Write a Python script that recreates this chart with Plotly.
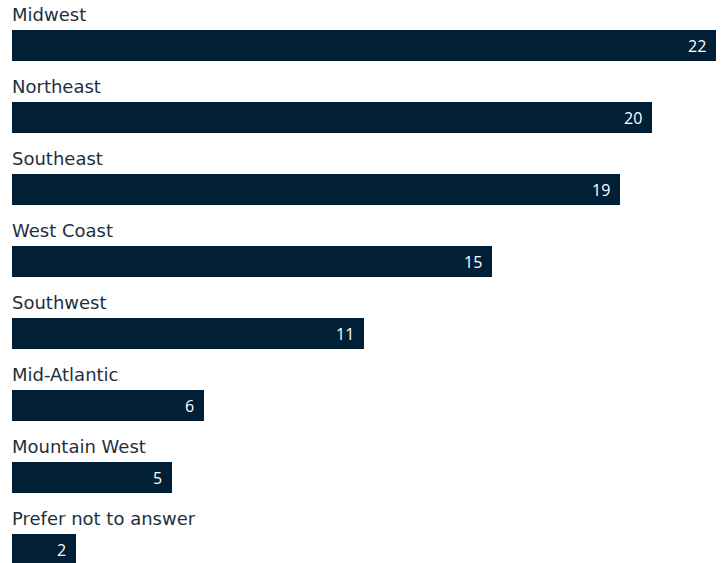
import plotly.graph_objects as go

# Survey responses by region
regions = ["Midwest", "Northeast", "Southeast", "West Coast", "Southwest",
           "Mid-Atlantic", "Mountain West", "Prefer not to answer"]
counts = [22, 20, 19, 15, 11, 6, 5, 2]

BAR_COLOR = "#012036"
LABEL_COLOR = "#1f2f3e"

fig = go.Figure(go.Bar(
    x=counts,
    y=regions,
    orientation="h",
    marker=dict(color=BAR_COLOR, line=dict(width=0)),
    width=0.43,
    hoverinfo="skip",
))

annotations = []
for i, (name, val) in enumerate(zip(regions, counts)):
    # category label sitting above each bar
    annotations.append(dict(
        x=0, y=i - 0.43, xref="x", yref="y",
        text=name, showarrow=False,
        xanchor="left", yanchor="middle", xshift=-2,
        font=dict(family="DejaVu Sans", size=18, color=LABEL_COLOR),
    ))
    # value label inside the bar end
    annotations.append(dict(
        x=val, y=i, xref="x", yref="y",
        text=str(val), showarrow=False,
        xanchor="right", yanchor="middle", xshift=-8,
        font=dict(family="Open Sans", size=16, color="white"),
    ))

fig.update_layout(
    width=728, height=563,
    margin=dict(l=12, r=12, t=0, b=0),
    paper_bgcolor="white", plot_bgcolor="white",
    showlegend=False,
    bargap=0,
    xaxis=dict(range=[0, 22], visible=False, fixedrange=True),
    yaxis=dict(type="category", categoryorder="array", categoryarray=regions,
               range=[7.1875, -0.632], visible=False, fixedrange=True),
    annotations=annotations,
)

fig.write_html("out.html", config={"displayModeBar": False})
